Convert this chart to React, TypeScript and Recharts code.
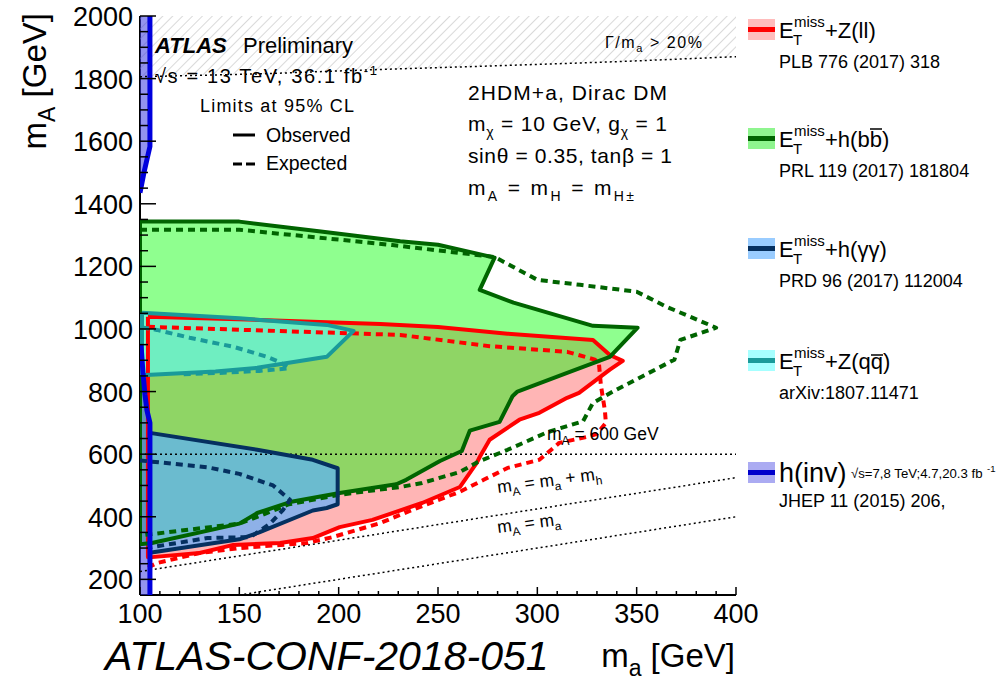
import React from "react";
import { ComposedChart, Scatter, XAxis, YAxis } from "recharts";

type Pair = [number, number];

const FONT = '"Liberation Sans", Arial, Helvetica, sans-serif';

const X_TICKS = [
  100, 110, 120, 130, 140, 150, 160, 170, 180, 190, 200, 210, 220, 230, 240, 250,
  260, 270, 280, 290, 300, 310, 320, 330, 340, 350, 360, 370, 380, 390, 400,
];
const Y_TICKS = [
  200, 250, 300, 350, 400, 450, 500, 550, 600, 650, 700, 750, 800, 850, 900, 950,
  1000, 1050, 1100, 1150, 1200, 1250, 1300, 1350, 1400, 1450, 1500, 1550, 1600,
  1650, 1700, 1750, 1800, 1850, 1900, 1950, 2000,
];

// (m_a, m_A) contour points in GeV
const widthLimit: Pair[] = [
  [100, 1806], [160, 1815], [220, 1829], [280, 1841], [340, 1854], [400, 1870],
];
const widthHatch: Pair[] = [...widthLimit, [400, 2000], [100, 2000], [100, 1806]];

const zllObserved: Pair[] = [
  [104, 1039], [160, 1029], [221, 1016], [250, 1006], [285, 985], [328, 965],
  [336.5, 917], [343, 898], [336.5, 870], [321, 796], [315, 780], [301, 732],
  [291, 710], [276, 646], [271, 591], [269.5, 572], [261, 495], [242, 444],
  [217, 390], [200.5, 367], [187, 332], [170.5, 316], [147, 310], [130, 284],
  [106, 271], [104, 271], [104, 1039],
];
const zllExpected: Pair[] = [
  [104, 1007], [231, 981], [276, 945], [315, 927], [329, 902], [331, 890],
  [332, 820], [334, 740], [334.5, 700], [330, 665], [325, 655], [311, 636],
  [301, 582], [285, 556], [273, 518], [261, 480], [237, 422], [221, 380],
  [197, 335], [184, 316], [150, 300], [130, 284], [108.5, 252], [104, 238],
];

const bbObserved: Pair[] = [
  [100, 1343], [150, 1343], [190, 1312], [231, 1280], [250, 1269], [278.5, 1228],
  [271, 1125], [288, 1084], [328, 1010], [350.5, 1004], [336.5, 911], [315, 860],
  [290, 800], [287.5, 785], [281, 703], [266, 675], [262, 610], [251, 578],
  [234, 518], [229, 504], [200.5, 476], [175.5, 447], [159, 412], [150, 378],
  [106, 316], [100, 312], [100, 1343],
];
const bbExpected: Pair[] = [
  [100, 1317], [150, 1317], [190, 1292], [227, 1268], [278.5, 1230], [300, 1157],
  [321.5, 1141], [350, 1119], [365, 1071], [390, 1004], [372, 965], [369, 902],
  [338, 800], [328, 764], [323, 705], [305, 670], [285, 614], [270, 575],
  [261, 543], [242, 508], [231, 495], [200, 470], [175, 440], [160, 402],
  [150, 378], [100, 340],
];

const qqObserved: Pair[] = [
  [101, 1052], [150, 1034], [194, 1013], [207.5, 994], [194, 911], [159, 876],
  [138, 864], [103, 853], [101, 853], [101, 1052],
];
const qqExpected: Pair[] = [
  [101, 1005], [108.5, 997], [125, 972], [147, 943], [164, 911], [170, 895],
  [175, 874], [160, 866], [142, 860], [120, 855],
];

const yyObserved: Pair[] = [
  [105, 668], [159, 614], [187, 582], [199.5, 555], [199.5, 440], [194, 428],
  [187, 420], [160, 350], [150, 328], [105, 285], [105, 668],
];
const yyExpected: Pair[] = [
  [100, 580], [134, 558], [150, 537], [167, 500], [175.5, 454], [172, 422],
  [165.5, 378], [158, 345], [155, 335], [134, 332], [106, 303], [104, 298],
];

const hinvUpperEdge: Pair[] = [[100, 1435], [102, 1500], [105, 1583], [105, 2000]];
const hinvLowerEdge: Pair[] = [
  [100.5, 950], [101.5, 860], [102.5, 790], [103.5, 740], [105, 700], [105, 150],
];
const hinvUpper: Pair[] = [...hinvUpperEdge, [100, 2000], [100, 1435]];
const hinvLower: Pair[] = [[100, 950], ...hinvLowerEdge, [100, 150], [100, 950]];

const massEqual600: Pair[] = [[100, 600], [400, 600]];
const massSumLine: Pair[] = [[100, 225], [400, 525]];
const massEqualLine: Pair[] = [[150, 150], [400, 400]];

const toPts = (pairs: Pair[]) => pairs.map(([ma, mA]) => ({ ma, mA }));
const noDot = () => <g />;

function fillRegion(key: string, pairs: Pair[], fill: string, fillOpacity: number) {
  return (
    <Scatter
      key={key}
      data={toPts(pairs)}
      shape={noDot}
      line={{ fill, fillOpacity, stroke: "none" }}
      isAnimationActive={false}
    />
  );
}

function contour(key: string, pairs: Pair[], stroke: string, width: number, dash?: string) {
  return (
    <Scatter
      key={key}
      data={toPts(pairs)}
      shape={noDot}
      line={{ fill: "none", stroke, strokeWidth: width, strokeDasharray: dash, strokeLinejoin: "round" }}
      isAnimationActive={false}
    />
  );
}

const DASH = "7 5";
const DOT = "2 3";

const renderXTick = (p: any) => {
  const v = p.payload.value;
  const major = v % 50 === 0;
  return (
    <g>
      <line x1={p.x} x2={p.x} y1={p.y} y2={p.y - (major ? 8 : 4)} stroke="#000" strokeWidth={1.5} />
      {major && (
        <text x={p.x} y={p.y + 28} textAnchor="middle" fontSize={27} fontFamily={FONT} fill="#000">
          {v}
        </text>
      )}
    </g>
  );
};
const renderTopTick = (p: any) => {
  const major = p.payload.value % 50 === 0;
  return <line x1={p.x} x2={p.x} y1={p.y} y2={p.y + (major ? 8 : 4)} stroke="#000" strokeWidth={1.5} />;
};
const renderYTick = (p: any) => {
  const v = p.payload.value;
  const major = v % 200 === 0;
  return (
    <g>
      <line x1={p.x} x2={p.x + (major ? 16 : 8)} y1={p.y} y2={p.y} stroke="#000" strokeWidth={1.5} />
      {major && (
        <text x={p.x - 7} y={p.y + 10} textAnchor="end" fontSize={27} fontFamily={FONT} fill="#000">
          {v}
        </text>
      )}
    </g>
  );
};
const renderRightTick = (p: any) => {
  const major = p.payload.value % 200 === 0;
  return <line x1={p.x} x2={p.x - (major ? 16 : 8)} y1={p.y} y2={p.y} stroke="#000" strokeWidth={1.5} />;
};

type LegendRow = {
  y: number;
  box: string;
  line: string;
  rest: string;
  ref: string;
  bar?: number;
  barY?: number;
};

const LEGEND: LegendRow[] = [
  { y: 38, box: "#ffbcbc", line: "#ff0000", rest: "+Z(ll)", ref: "PLB 776 (2017) 318" },
  { y: 147, box: "#8ff58f", line: "#006400", rest: "+h(bb)", ref: "PRL 119 (2017) 181804", bar: 870, barY: 18 },
  { y: 257, box: "#99ccff", line: "#053060", rest: "+h(γγ)", ref: "PRD 96 (2017) 112004" },
  { y: 369, box: "#a6ffff", line: "#1a9a9a", rest: "+Z(qq)", ref: "arXiv:1807.11471", bar: 871, barY: 14 },
];

function Overlay() {
  const t = { fontFamily: FONT, fill: "#000" } as const;
  return (
    <svg
      width={998}
      height={680}
      style={{ position: "absolute", left: 0, top: 0, pointerEvents: "none" }}
    >
      <text x={155} y={53} fontSize={22} fontWeight="bold" fontStyle="italic" {...t}>ATLAS</text>
      <text x={243} y={53} fontSize={22} {...t}>Preliminary</text>
      <text x={155} y={83} fontSize={20} textLength={222} lengthAdjust="spacing" {...t}>
        √s = 13 TeV, 36.1 fb<tspan dy={-8} fontSize={13}>-1</tspan>
      </text>
      <text x={200} y={112} fontSize={18} textLength={154} lengthAdjust="spacing" {...t}>Limits at 95% CL</text>
      <line x1={233} x2={255} y1={135} y2={135} stroke="#000" strokeWidth={3} />
      <text x={266} y={142} fontSize={19.5} {...t}>Observed</text>
      <line x1={233} x2={256} y1={164} y2={164} stroke="#000" strokeWidth={3} strokeDasharray="9 4" />
      <text x={266} y={170} fontSize={19.5} {...t}>Expected</text>

      <text x={605} y={48} fontSize={16} textLength={97} lengthAdjust="spacing" {...t}>
        Γ/m<tspan dy={4} fontSize={11}>a</tspan><tspan dy={-4}> &gt; 20%</tspan>
      </text>

      <text x={468} y={100} fontSize={21} textLength={199} lengthAdjust="spacing" {...t}>2HDM+a, Dirac DM</text>
      <text x={468} y={131} fontSize={21} textLength={199} lengthAdjust="spacing" {...t}>
        m<tspan dy={6} fontSize={14}>χ</tspan>
        <tspan dy={-6}> = 10 GeV, g</tspan>
        <tspan dy={6} fontSize={14}>χ</tspan>
        <tspan dy={-6}> = 1</tspan>
      </text>
      <text x={468} y={163} fontSize={21} textLength={204} lengthAdjust="spacing" {...t}>sinθ = 0.35, tanβ = 1</text>
      <text x={468} y={195} fontSize={21} textLength={166} lengthAdjust="spacing" {...t}>
        m<tspan dy={6} fontSize={14}>A</tspan>
        <tspan dy={-6}> = m</tspan>
        <tspan dy={6} fontSize={14}>H</tspan>
        <tspan dy={-6}> = m</tspan>
        <tspan dy={6} fontSize={14}>H±</tspan>
      </text>

      <text x={547} y={440} fontSize={17.5} {...t}>
        m<tspan dy={5} fontSize={12}>A</tspan><tspan dy={-5}> = 600 GeV</tspan>
      </text>
      <text x={498} y={493} fontSize={17.5} transform="rotate(-7.5 498 493)" {...t}>
        m<tspan dy={5} fontSize={12}>A</tspan><tspan dy={-5}> = m</tspan>
        <tspan dy={5} fontSize={12}>a</tspan><tspan dy={-5}> + m</tspan>
        <tspan dy={5} fontSize={12}>h</tspan>
      </text>
      <text x={498} y={533} fontSize={17.5} transform="rotate(-7.5 498 533)" {...t}>
        m<tspan dy={5} fontSize={12}>A</tspan><tspan dy={-5}> = m</tspan>
        <tspan dy={5} fontSize={12}>a</tspan>
      </text>

      <text x={46} y={13} fontSize={33} textAnchor="end" transform="rotate(-90 46 13)" {...t}>
        m<tspan dy={9} fontSize={23}>A</tspan><tspan dy={-9}> [GeV]</tspan>
      </text>
      <text x={735} y={667} fontSize={33} textAnchor="end" {...t}>
        m<tspan dy={9} fontSize={23}>a</tspan><tspan dy={-9}> [GeV]</tspan>
      </text>
      <text x={105} y={670} fontSize={41} fontStyle="italic" {...t}>ATLAS-CONF-2018-051</text>

      {LEGEND.map((row) => (
        <g key={row.ref}>
          <rect x={748} y={row.y - 19} width={27} height={21} fill={row.box} />
          <rect x={748} y={row.y - 11} width={27} height={5} fill={row.line} />
          <text x={779} y={row.y} fontSize={22} {...t}>E</text>
          <text x={794} y={row.y - 11} fontSize={15} {...t}>miss</text>
          <text x={793} y={row.y + 7} fontSize={15} {...t}>T</text>
          <text x={825} y={row.y} fontSize={22} {...t}>{row.rest}</text>
          {row.bar !== undefined && (
            <line
              x1={row.bar}
              x2={row.bar + 12}
              y1={row.y - (row.barY ?? 18)}
              y2={row.y - (row.barY ?? 18)}
              stroke="#000"
              strokeWidth={1.5}
            />
          )}
          <text x={779} y={row.y + 30} fontSize={18} {...t}>{row.ref}</text>
        </g>
      ))}
      <rect x={748} y={462} width={27} height={21} fill="#ababf2" />
      <rect x={748} y={470} width={27} height={5} fill="#0000cc" />
      <text x={779} y={482} fontSize={27} {...t}>h(inv)</text>
      <text x={851} y={478} fontSize={13.2} {...t}>√s=7,8 TeV;4.7,20.3 fb</text>
      <text x={987} y={472} fontSize={9.5} {...t}>-1</text>
      <text x={779} y={507} fontSize={18} {...t}>JHEP 11 (2015) 206,</text>
    </svg>
  );
}

export default function App() {
  return (
    <div
      style={{
        position: "absolute",
        left: 0,
        top: 0,
        width: 998,
        height: 680,
        background: "#fff",
        fontFamily: FONT,
      }}
    >
      <svg width={0} height={0} style={{ position: "absolute" }}>
        <defs>
          <pattern
            id="widthHatch"
            width={7}
            height={7}
            patternUnits="userSpaceOnUse"
            patternTransform="rotate(45)"
          >
            <line x1={0} y1={0} x2={0} y2={7} stroke="#b4b4b4" strokeWidth={1} />
          </pattern>
        </defs>
      </svg>
      <ComposedChart width={998} height={680} margin={{ top: 16, right: 262, bottom: 0, left: 0 }}>
        <XAxis
          type="number"
          dataKey="ma"
          domain={[100, 400]}
          allowDataOverflow
          ticks={X_TICKS}
          interval={0}
          tickSize={0}
          tickMargin={0}
          tickLine={false}
          axisLine={{ stroke: "#000", strokeWidth: 2 }}
          height={85}
          tick={renderXTick}
        />
        <XAxis
          xAxisId="top"
          orientation="top"
          type="number"
          domain={[100, 400]}
          allowDataOverflow
          ticks={X_TICKS}
          interval={0}
          tickSize={0}
          tickMargin={0}
          tickLine={false}
          axisLine={{ stroke: "#000", strokeWidth: 2 }}
          height={0}
          tick={renderTopTick}
        />
        <YAxis
          type="number"
          dataKey="mA"
          domain={[150, 2000]}
          allowDataOverflow
          ticks={Y_TICKS}
          interval={0}
          tickSize={0}
          tickMargin={0}
          tickLine={false}
          axisLine={{ stroke: "#000", strokeWidth: 2 }}
          width={140}
          tick={renderYTick}
        />
        <YAxis
          yAxisId="right"
          orientation="right"
          type="number"
          domain={[150, 2000]}
          allowDataOverflow
          ticks={Y_TICKS}
          interval={0}
          tickSize={0}
          tickMargin={0}
          tickLine={false}
          axisLine={{ stroke: "#000", strokeWidth: 2 }}
          width={0}
          tick={renderRightTick}
        />

        {fillRegion("hatch", widthHatch, "url(#widthHatch)", 1)}
        {fillRegion("zll-fill", zllObserved, "#ff0000", 0.29)}
        {fillRegion("bb-fill", bbObserved, "#00ff00", 0.44)}
        {fillRegion("qq-fill", qqObserved, "#5affff", 0.6)}
        {fillRegion("yy-fill", yyObserved, "#5bafff", 0.69)}
        {fillRegion("hinv-fill-up", hinvUpper, "#3b3be0", 0.55)}
        {fillRegion("hinv-fill-low", hinvLower, "#3b3be0", 0.55)}

        {contour("width-line", widthLimit, "#000", 1.5, DOT)}
        {contour("m600", massEqual600, "#000", 1.5, DOT)}
        {contour("msum", massSumLine, "#000", 1.5, DOT)}
        {contour("meq", massEqualLine, "#000", 1.5, DOT)}

        {contour("zll-exp", zllExpected, "#ff0000", 4, DASH)}
        {contour("zll-obs", zllObserved, "#ff0000", 4)}
        {contour("bb-exp", bbExpected, "#006400", 4, DASH)}
        {contour("bb-obs", bbObserved, "#006400", 4)}
        {contour("qq-exp", qqExpected, "#1a9a9a", 4, DASH)}
        {contour("qq-obs", qqObserved, "#1a9a9a", 4)}
        {contour("yy-exp", yyExpected, "#053060", 4, DASH)}
        {contour("yy-obs", yyObserved, "#053060", 4)}
        {contour("hinv-up", hinvUpperEdge, "#0000dd", 5)}
        {contour("hinv-low", hinvLowerEdge, "#0000dd", 5)}
      </ComposedChart>
      <Overlay />
    </div>
  );
}
